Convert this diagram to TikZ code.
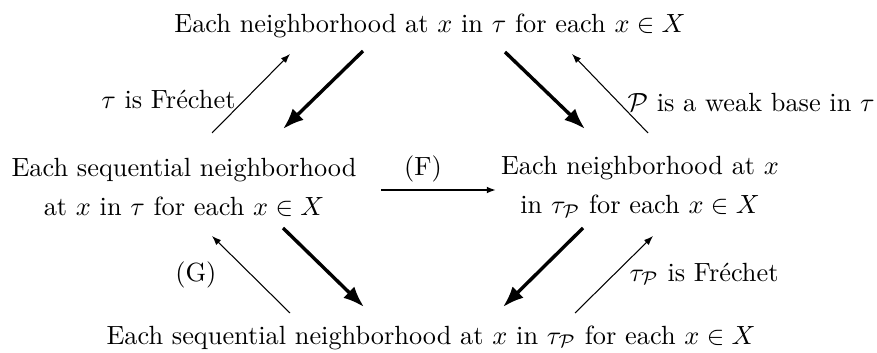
\documentclass[tikz,border=0pt]{standalone}
\usepackage{amsmath,amssymb}
\usetikzlibrary{arrows.meta}
\tikzset{
  stmt/.style={align=center, inner sep=0pt},
  lbl/.style={inner sep=0pt},
  strong/.style={-{Latex[length=8pt,width=6pt]}, line width=1.3pt},
  weak/.style={-{Latex[length=3.5pt,width=2.6pt]}, line width=0.4pt}
}

\begin{document}
\begin{tikzpicture}[x=0.38pt,y=-0.38pt]
  \useasboundingbox (0,0) rectangle (877,353);
  % the four statements
  \node[stmt, anchor=base] (top) at (430,33) {Each neighborhood at $x$ in $\tau$ for each $x\in X$};
  \node[stmt] (lft) at (184,187) {Each sequential neighborhood\\[2.8pt] at $x$ in $\tau$ for each $x\in X$};
  \node[stmt] (rgt) at (640,187) {Each neighborhood at $x$\\[2.8pt] in $\tau_{\mathcal{P}}$ for each $x\in X$};
  \node[stmt, anchor=base] (bot) at (431,344) {Each sequential neighborhood at $x$ in $\tau_{\mathcal{P}}$ for each $x\in X$};
  % arrow ends
  \coordinate (tl1) at (212,133);
  \coordinate (tl2) at (290,54);
  \coordinate (tl3) at (363,51);
  \coordinate (tl4) at (283,129);
  \coordinate (tr1) at (505,52);
  \coordinate (tr2) at (585,129);
  \coordinate (tr3) at (648,133);
  \coordinate (tr4) at (572,54);
  \coordinate (md1) at (381,190);
  \coordinate (md2) at (496,190);
  \coordinate (bl1) at (290,313);
  \coordinate (bl2) at (212,236);
  \coordinate (bl3) at (283,228);
  \coordinate (bl4) at (364,307);
  \coordinate (br1) at (583,228);
  \coordinate (br2) at (503,307);
  \coordinate (br3) at (575,313);
  \coordinate (br4) at (653,236);
  % implications
  \draw[weak] (tl1) -- (tl2);
  \draw[strong] (tl3) -- (tl4);
  \draw[strong] (tr1) -- (tr2);
  \draw[weak] (tr3) -- (tr4);
  \draw[weak, line width=0.7pt] (md1) -- (md2);
  \draw[weak] (bl1) -- (bl2);
  \draw[strong] (bl3) -- (bl4);
  \draw[strong] (br1) -- (br2);
  \draw[weak] (br3) -- (br4);
  % conditions
  \node[lbl, anchor=base east] (c1) at (236,109) {$\tau$ is Fr\'echet};
  \node[lbl, anchor=base west] (c2) at (627,112) {$\mathcal{P}$ is a weak base in $\tau$};
  \node[lbl, anchor=base] (c3) at (423,176) {(F)};
  \node[lbl, anchor=base east] (c4) at (217,281) {(G)};
  \node[lbl, anchor=base west] (c5) at (629,281) {$\tau_{\mathcal{P}}$ is Fr\'echet};
\end{tikzpicture}
\end{document}
